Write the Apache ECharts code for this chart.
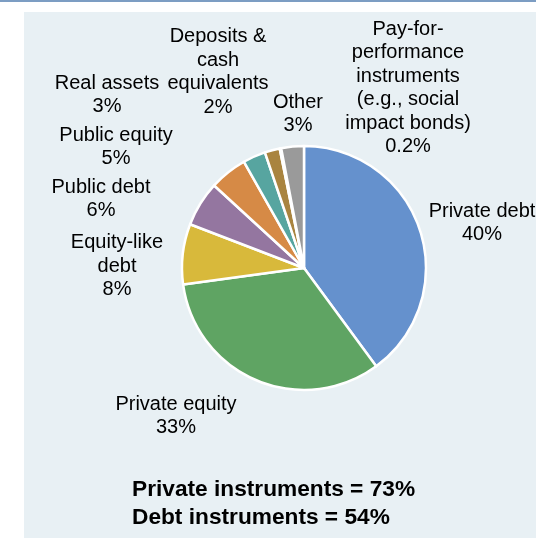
<!DOCTYPE html>
<html>
<head>
<meta charset="utf-8">
<style>
    html, body { margin: 0; padding: 0; background: #fff; }
    #chart { width: 536px; height: 538px; }
</style>
<script src="https://cdn.jsdelivr.net/npm/echarts@6/dist/echarts.min.js"></script>
</head>
<body>
<div id="chart"></div>
<script>
// 各类资产占比 (%)
const categories = [
    'Private debt',
    'Private equity',
    'Equity-like\ndebt',
    'Public debt',
    'Public equity',
    'Real assets',
    'Deposits &\ncash\nequivalents',
    'Pay-for-\nperformance\ninstruments\n(e.g., social\nimpact bonds)',
    'Other',
]
const shares = [40, 33, 8, 6, 5, 3, 2, 0.2, 3]
const sliceColors = ['#6591cd', '#5fa463', '#d8b93b', '#9476a0', '#d68a46', '#57a5a0', '#a9843f', '#f4f4f4', '#9a9a9a']
const notes = ['Private instruments = 73%', 'Debt instruments = 54%']

// 标签位置 (Excel 里是手动拖出来的)
const labelSpots = [
    [482, 223], [176, 416], [117, 266], [101, 199], [116, 147],
    [107, 95], [218, 72], [408, 88], [298, 114],
]

const chart = echarts.init(document.getElementById('chart'))
const font = '"Liberation Sans", Arial, sans-serif'

chart.setOption({
    backgroundColor: '#ffffff',
    animation: false,
    graphic: [
        { type: 'rect', shape: { x: 0, y: 0, width: 536, height: 2 }, style: { fill: '#7c9dc3' } },
        { type: 'rect', shape: { x: 24, y: 12, width: 512, height: 526 }, style: { fill: '#e8f0f4' }, z: -1 },
        {
            type: 'text', left: 132, top: 476,
            style: { text: notes.join('\n'), font: `bold 22.7px ${font}`, lineHeight: 28, fill: '#000' },
        },
    ],
    series: [{
        type: 'pie',
        center: [304, 268],
        radius: 122,
        startAngle: 90,
        clockwise: true,
        avoidLabelOverlap: false,
        itemStyle: { borderColor: '#ffffff', borderWidth: 2.5 },
        label: {
            show: true,
            formatter: '{b}\n{c}%',
            fontFamily: font,
            fontSize: 20,
            lineHeight: 23.5,
            color: '#000',
            align: 'center',
        },
        labelLine: { show: false },
        labelLayout: (p) => ({
            x: labelSpots[p.dataIndex][0],
            y: labelSpots[p.dataIndex][1],
            align: 'center',
            verticalAlign: 'middle',
        }),
        data: categories.map((name, i) => ({ name, value: shares[i], itemStyle: { color: sliceColors[i] } })),
    }],
})
</script>
</body>
</html>
